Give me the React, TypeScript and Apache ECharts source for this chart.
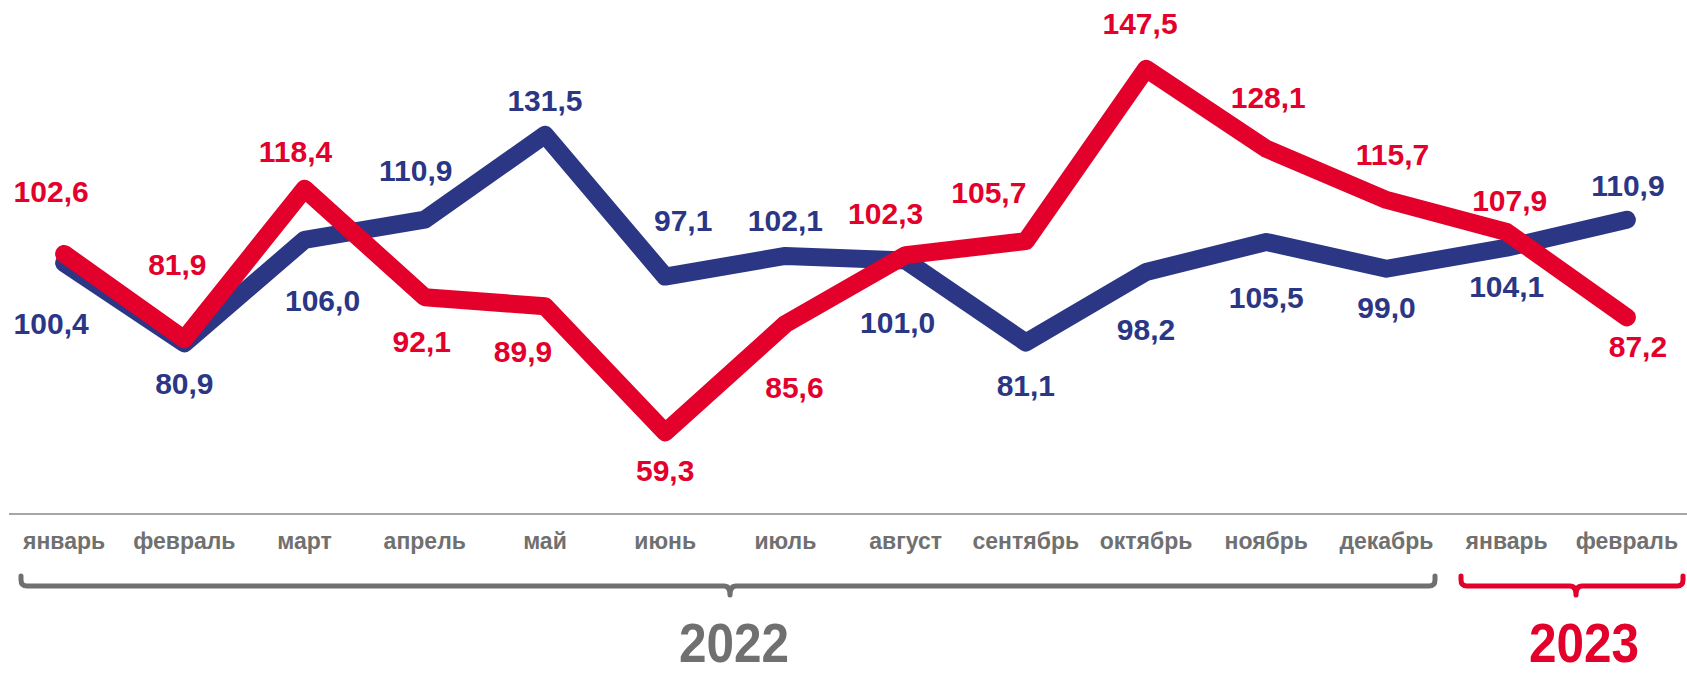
import React, { useEffect, useRef } from "react";
import * as echarts from "echarts";

const months = [
  "январь", "февраль", "март", "апрель", "май", "июнь", "июль",
  "август", "сентябрь", "октябрь", "ноябрь", "декабрь", "январь", "февраль",
];
const blueValues = [100.4, 80.9, 106.0, 110.9, 131.5, 97.1, 102.1, 101.0, 81.1, 98.2, 105.5, 99.0, 104.1, 110.9];
const redValues = [102.6, 81.9, 118.4, 92.1, 89.9, 59.3, 85.6, 102.3, 105.7, 147.5, 128.1, 115.7, 107.9, 87.2];
const yearLabels = ["2022", "2023"];

// label offsets (layout only)
const blueOffsets: number[][] = [
  [-13, 61], [0, 40], [18, 61], [-9, -49], [0, -34], [18, -56], [0, -35],
  [-8, 62], [0, 43], [0, 57], [0, 56], [0, 39], [0, 39], [1, -34],
];
const redOffsets: number[][] = [
  [-13, -62], [-7, -75], [-9, -37], [-3, 44], [-22, 45], [0, 38], [9, 64],
  [-20, -42], [-37, -49], [-6, -45], [2, -51], [6, -45], [3, -32], [11, 29],
];

const BLUE = "#2B3685";
const RED = "#E3002B";
const GRAY = "#707070";
const FONT = "'Liberation Sans', Arial, sans-serif";

function bracketPath(x0: number, x1: number, mid: number, top: number, h: number, tip: number, r: number) {
  return (
    `M${x0},${top} L${x0},${h - r} Q${x0},${h} ${x0 + r},${h} L${mid - r},${h} Q${mid},${h} ${mid},${tip} ` +
    `Q${mid},${h} ${mid + r},${h} L${x1 - r},${h} Q${x1},${h} ${x1},${h - r} L${x1},${top}`
  );
}

echarts.graphic.registerShape(
  "bracketGray",
  echarts.graphic.extendPath(bracketPath(21, 1435, 730, 576, 586, 595, 6), {})
);
echarts.graphic.registerShape(
  "bracketRed",
  echarts.graphic.extendPath(bracketPath(1461, 1683, 1576, 576, 586, 595, 6), {})
);

const fmt = (v: number) => v.toFixed(1).replace(".", ",");

export default function App() {
  const ref = useRef<HTMLDivElement>(null);
  useEffect(() => {
    document.body.style.margin = "0";
    if (!ref.current) return;
    const chart = echarts.init(ref.current, undefined, { renderer: "svg" });
    const labelBase = {
      show: true,
      position: "inside",
      align: "center",
      verticalAlign: "middle",
      fontFamily: FONT,
      fontWeight: "bold",
      fontSize: 30,
      formatter: (p: any) => fmt(p.value),
    };
    const lineSeries = (values: number[], color: string, z: number) => ({
      type: "line",
      data: values,
      symbol: "none",
      lineStyle: { color, width: 18, cap: "round", join: "round" },
      emphasis: { disabled: true },
      z,
    });
    const labelSeries = (values: number[], offsets: number[][], color: string) => ({
      type: "scatter",
      data: values.map((v, i) => ({ value: v, label: { offset: offsets[i] } })),
      symbolSize: 1,
      itemStyle: { color: "rgba(0,0,0,0)", opacity: 1 },
      label: { ...labelBase, color },
      emphasis: { disabled: true },
      z: 10,
    });
    chart.setOption({
      animation: false,
      grid: { left: 4, right: -6, top: 0, bottom: 161, containLabel: false },
      xAxis: {
        type: "category",
        data: months,
        boundaryGap: true,
        axisLine: { show: false },
        axisTick: { show: false },
        axisLabel: {
          color: GRAY,
          fontFamily: FONT,
          fontWeight: "bold",
          fontSize: 23,
          margin: 15,
          interval: 0,
        },
      },
      yAxis: {
        type: "value",
        min: 39.5,
        max: 164.2,
        show: false,
        splitLine: { show: false },
      },
      series: [
        lineSeries(blueValues, BLUE, 2),
        lineSeries(redValues, RED, 3),
        labelSeries(blueValues, blueOffsets, BLUE),
        labelSeries(redValues, redOffsets, RED),
      ],
      graphic: [
        {
          type: "line",
          shape: { x1: 9, y1: 514, x2: 1687, y2: 514 },
          style: { stroke: "#A6A6A6", lineWidth: 2 },
          silent: true,
        },
        {
          type: "bracketGray",
          x: 0,
          y: 0,
          style: { fill: "none", stroke: GRAY, lineWidth: 5, lineCap: "round", lineJoin: "round" },
          silent: true,
        },
        {
          type: "bracketRed",
          x: 0,
          y: 0,
          style: { fill: "none", stroke: RED, lineWidth: 5, lineCap: "round", lineJoin: "round" },
          silent: true,
        },
        {
          type: "text",
          x: 734,
          y: 643,
          scaleX: 0.9,
          style: {
            text: yearLabels[0],
            fill: GRAY,
            font: `bold 55px ${FONT}`,
            textAlign: "center",
            textVerticalAlign: "middle",
          },
          silent: true,
        },
        {
          type: "text",
          x: 1584,
          y: 643,
          scaleX: 0.9,
          style: {
            text: yearLabels[1],
            fill: RED,
            font: `bold 55px ${FONT}`,
            textAlign: "center",
            textVerticalAlign: "middle",
          },
          silent: true,
        },
      ],
    });
    return () => chart.dispose();
  }, []);
  return <div ref={ref} style={{ width: 1687, height: 675 }} />;
}
